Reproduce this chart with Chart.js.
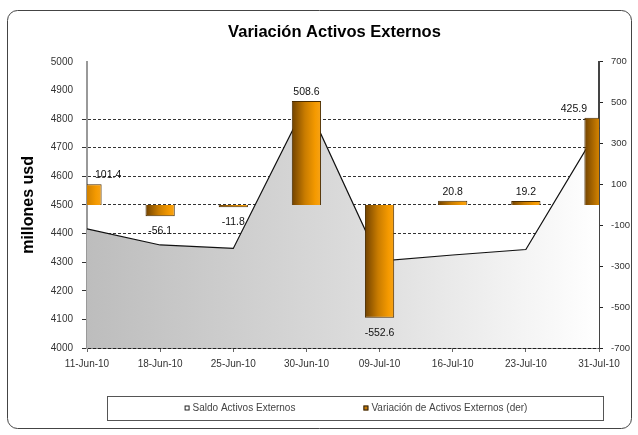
<!DOCTYPE html>
<html lang="es">
<head>
    <meta charset="UTF-8">
    <title>Variación Activos Externos</title>
    <style>
        body { margin: 0; background: #fff; }
        .chart-container { position: relative; width: 638px; height: 435px; }
    </style>
</head>
<body>
    <div class="chart-container">
        <canvas class="activos-chart"></canvas>
    </div>

    <script src="https://cdn.jsdelivr.net/npm/chart.js@4.4.1/dist/chart.umd.min.js"></script>
    <script>
        // Datos
        const fechas = ['11-Jun-10', '18-Jun-10', '25-Jun-10', '30-Jun-10', '09-Jul-10', '16-Jul-10', '23-Jul-10', '31-Jul-10'];
        const saldoActivos = [4416, 4360, 4348, 4857, 4304, 4325, 4344, 4770];
        const variacionActivos = [101.4, -56.1, -11.8, 508.6, -552.6, 20.8, 19.2, 425.9];
        const ticksDerecha = [-700, -500, -300, -100, 100, 300, 500, 700];

        const FUENTE = "'Liberation Sans', Arial, sans-serif";

        // Gradiente gris del area (oscuro a la izquierda)
        function gradienteArea(context) {
            const chart = context.chart;
            const area = chart.chartArea;
            if (!area) return '#d0d0d0';
            const g = chart.ctx.createLinearGradient(area.left, 0, area.right, 0);
            g.addColorStop(0, '#bdbdbd');
            g.addColorStop(0.5, '#dadada');
            g.addColorStop(1, '#ffffff');
            return g;
        }

        // Gradiente marron -> naranja de cada barra
        function gradienteBarra(context) {
            const chart = context.chart;
            if (!chart.chartArea || context.type !== 'data') return '#e08a00';
            const x = chart.scales.x.getPixelForValue(context.dataIndex);
            const mitad = 15;
            const g = chart.ctx.createLinearGradient(x - mitad, 0, x + mitad, 0);
            g.addColorStop(0, '#6e4000');
            g.addColorStop(0.45, '#c97c00');
            g.addColorStop(0.8, '#f59a00');
            g.addColorStop(1, '#f7a31a');
            return g;
        }

        // Marco redondeado y fondo blanco
        const marco = {
            id: 'marco',
            beforeDraw(chart) {
                const ctx = chart.ctx;
                ctx.save();
                ctx.fillStyle = '#fff';
                ctx.fillRect(0, 0, chart.width, chart.height);
                ctx.strokeStyle = '#444';
                ctx.lineWidth = 1;
                ctx.beginPath();
                ctx.roundRect(7.5, 10.5, 624, 418, 10);
                ctx.stroke();
                ctx.restore();
            },
            afterLayout(chart) {
                // el titulo de Excel esta un poco a la derecha
                chart.titleBlock.left += 8;
                chart.titleBlock.right += 8;
            }
        };

        // Etiquetas de valor en las barras
        const etiquetasBarras = {
            id: 'etiquetasBarras',
            afterDatasetsDraw(chart) {
                const meta = chart.getDatasetMeta(1);
                const area = chart.chartArea;
                const ctx = chart.ctx;
                ctx.save();
                ctx.font = '10.5px ' + FUENTE;
                ctx.fillStyle = '#111';
                ctx.textAlign = 'center';
                ctx.textBaseline = 'middle';
                meta.data.forEach((barra, i) => {
                    const valor = variacionActivos[i];
                    const texto = valor.toFixed(1);
                    const ancho = ctx.measureText(texto).width;
                    let x = Math.max(area.left + 8 + ancho / 2, Math.min(area.right - 12 - ancho / 2, barra.x));
                    const y = valor >= 0 ? barra.y - 9 : barra.y + 15;
                    ctx.fillText(texto, x, y);
                });
                ctx.restore();
            }
        };

        // Leyenda con recuadro, como en Excel
        const leyenda = {
            id: 'leyenda',
            afterDraw(chart) {
                const ctx = chart.ctx;
                ctx.save();
                ctx.strokeStyle = '#555';
                ctx.lineWidth = 1;
                ctx.strokeRect(107.5, 396.5, 496, 24);
                ctx.font = '10px ' + FUENTE;
                ctx.textBaseline = 'middle';
                const items = chart.data.datasets.map(ds => ({ texto: ds.label, relleno: ds.colorLeyenda }));
                const caja = 5, sep = 3, hueco = 68;
                const anchos = items.map(it => caja + sep + ctx.measureText(it.texto).width);
                const total = anchos.reduce((a, b) => a + b, 0) + hueco * (items.length - 1);
                let x = 356 - total / 2;
                const y = 408;
                items.forEach((it, i) => {
                    ctx.fillStyle = it.relleno;
                    ctx.fillRect(x, y - 2.5, caja, caja);
                    ctx.strokeStyle = '#222';
                    ctx.strokeRect(x + 0.5, y - 2, caja - 1, caja - 1);
                    ctx.fillStyle = '#444';
                    ctx.fillText(it.texto, x + caja + sep, y);
                    x += anchos[i] + hueco;
                });
                ctx.restore();
            }
        };

        const colorGrid = c => (c.tick && c.tick.value <= 4800) ? '#333' : 'rgba(0,0,0,0)';

        const ctx = document.querySelector('.activos-chart').getContext('2d');
        const chart = new Chart(ctx, {
            type: 'bar',
            data: {
                labels: fechas,
                datasets: [{
                    type: 'line',
                    label: 'Saldo Activos Externos',
                    data: saldoActivos,
                    yAxisID: 'y',
                    order: 2,
                    fill: 'start',
                    backgroundColor: gradienteArea,
                    borderColor: '#111',
                    borderWidth: 1.2,
                    pointRadius: 0,
                    tension: 0,
                    colorLeyenda: '#ffffff'
                }, {
                    type: 'bar',
                    label: 'Variación de Activos Externos (der)',
                    data: variacionActivos,
                    yAxisID: 'y1',
                    order: 1,
                    clip: 0,
                    backgroundColor: gradienteBarra,
                    borderColor: '#4a2c00',
                    borderWidth: 1,
                    barPercentage: 1,
                    categoryPercentage: 0.4,
                    colorLeyenda: '#c87800'
                }]
            },
            options: {
                responsive: true,
                maintainAspectRatio: false,
                animation: false,
                layout: { padding: { left: 15, right: 0, top: 0, bottom: 57 } },
                plugins: {
                    legend: { display: false },
                    tooltip: { enabled: false },
                    title: {
                        display: true,
                        text: 'Variación Activos Externos',
                        color: '#000',
                        font: { family: FUENTE, size: 16.5, weight: 'bold' },
                        padding: { top: 23, bottom: 19 }
                    }
                },
                scales: {
                    x: {
                        offset: false,
                        grid: { offset: false, drawOnChartArea: false, tickLength: 4, tickColor: '#666' },
                        border: { color: '#111', width: 1.5 },
                        ticks: { font: { family: FUENTE, size: 10 }, color: '#333', maxRotation: 0, autoSkip: false, padding: 6 },
                        afterFit(scale) { scale.height = 30; }
                    },
                    y: {
                        position: 'left',
                        min: 4000,
                        max: 5000,
                        ticks: {
                            stepSize: 100,
                            font: { family: FUENTE, size: 10 },
                            color: '#333',
                            padding: 9,
                            callback: v => String(v)
                        },
                        grid: { color: colorGrid, tickColor: colorGrid, tickLength: 5 },
                        border: { color: '#999', width: 2, dash: [3, 2] },
                        title: {
                            display: true,
                            text: 'millones usd',
                            color: '#000',
                            font: { family: FUENTE, size: 16, weight: 'bold' },
                            padding: { top: 4, bottom: 0 }
                        },
                        afterFit(scale) { scale.width = 72; }
                    },
                    y1: {
                        position: 'right',
                        min: -700,
                        max: 700,
                        afterBuildTicks(scale) { scale.ticks = ticksDerecha.map(v => ({ value: v })); },
                        ticks: { font: { family: FUENTE, size: 9.5 }, color: '#333', padding: 8, callback: v => String(v) },
                        grid: { drawOnChartArea: false, tickLength: 4, tickColor: '#222' },
                        border: { color: '#444', width: 2 },
                        afterFit(scale) { scale.width = 39; }
                    }
                }
            },
            plugins: [marco, etiquetasBarras, leyenda]
        });
    </script>
</body>
</html>
